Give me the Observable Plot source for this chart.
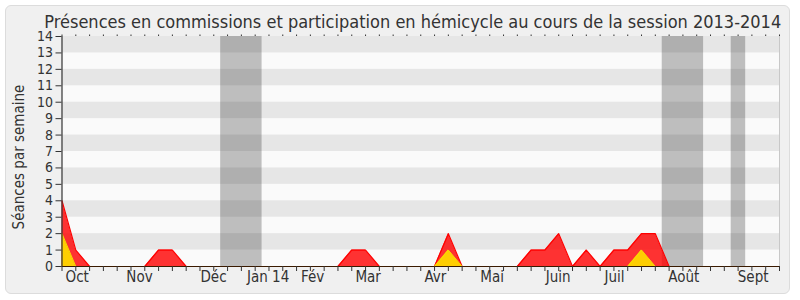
<!DOCTYPE html>
<html>
<head>
<meta charset="utf-8">
<script src="https://cdn.jsdelivr.net/npm/d3@7"></script>
<script src="https://cdn.jsdelivr.net/npm/@observablehq/plot@0.6"></script>
<style>
  html, body { margin: 0; padding: 0; background: #ffffff; }
  #wrap { position: relative; width: 800px; height: 300px; overflow: hidden; }
  #box { position: absolute; left: 5px; top: 5px; width: 783px; height: 287px;
         background: #f0f0f0; border: 1px solid #dcdcdc; border-radius: 6px; }
  #chart { position: absolute; left: 0; top: 0; }
  #ytitle { position: absolute; left: 19px; top: 157px; transform: translate(-50%, -50%) rotate(-90deg);
            white-space: nowrap; font-family: 'DejaVu Sans Condensed', 'DejaVu Sans', sans-serif;
            font-stretch: condensed; font-size: 15px; color: #333; }
</style>
</head>
<body>
<div id="wrap"><div id="box"></div><div id="chart"></div><div id="ytitle"></div></div>
<script>
// ---- data ----
const title = "Présences en commissions et participation en hémicycle au cours de la session 2013-2014";
const yTitle = "Séances par semaine";
const weeks = d3.range(0, 53);
// séances par semaine (total, rouge)
const redValues = [4,1,0,0,0,0,0,1,1,0, 0,0,0,0,0,0,0,0,0,0, 0,1,1,0,0,0,0,0,2,0, 0,0,0,0,1,1,2,0,1,0, 1,1,2,2,0,0,0,0,0,0, 0,0,0];
// présences en hémicycle (jaune)
const yellowValues = [2,0,0,0,0,0,0,0,0,0, 0,0,0,0,0,0,0,0,0,0, 0,0,0,0,0,0,0,0,1,0, 0,0,0,0,0,0,0,0,0,0, 0,0,1,0,0,0,0,0,0,0, 0,0,0];
const monthLabels = ["Oct","Nov","Déc","Jan 14","Fév","Mar","Avr","Mai","Juin","Juil","Août","Sept"];
const monthPos    = [1.1, 5.62, 10.98, 14.94, 18.17, 22.19, 27.06, 31.17, 35.96, 40.04, 45.06, 50.09];
const vacStart = [11.5, 43.5, 48.5];
const vacEnd   = [14.5, 46.5, 49.55];
const yTicks = d3.range(0, 15);
const bandStarts = [1,3,5,7,9,11,13];

const rows = weeks.map((w, i) => ({week: w, red: redValues[i], yellow: yellowValues[i]}));
const months = monthLabels.map((l, i) => ({label: l, pos: monthPos[i]}));
const vac = vacStart.map((s, i) => ({s, e: vacEnd[i]}));

const font = "'DejaVu Sans Condensed', 'DejaVu Sans', sans-serif";

const plot = Plot.plot({
  width: 800, height: 300,
  marginLeft: 61.5, marginRight: 21, marginTop: 36, marginBottom: 34,
  style: {background: "transparent", fontFamily: font, fontSize: "15px", color: "#333", fontStretch: "condensed"},
  x: {domain: [0, 52], axis: null},
  y: {domain: [0, 14], axis: null},
  marks: [
    Plot.frame({fill: "#fafafa", stroke: null}),
    Plot.rect(bandStarts, {y1: d => d, y2: d => d + 1, fill: "#e6e6e6"}),
    Plot.rect(vac, {x1: "s", x2: "e", fill: "#000", fillOpacity: 0.24}),
    Plot.areaY(rows, {x: "week", y: "red", fill: "#ff0000", fillOpacity: 0.8}),
    Plot.lineY(rows, {x: "week", y: "red", stroke: "#ff0000", strokeWidth: 1.2}),
    Plot.areaY(rows, {x: "week", y: "yellow", fill: "#ffd700", fillOpacity: 0.95}),
    Plot.lineY(rows, {x: "week", y: "yellow", stroke: "#f5e000", strokeWidth: 1}),
    Plot.ruleY([0], {stroke: "#3a1a00", strokeWidth: 1.2}),
    Plot.ruleX([0], {stroke: "#333", strokeWidth: 1.2}),
    Plot.ruleX([52], {stroke: "#c8c8c8"}),
    Plot.axisY({ticks: yTicks, tickSize: 6, tickPadding: 3, fontSize: 14, fill: "#333", stroke: "#333"}),
    Plot.axisX({ticks: weeks, tickSize: 5, tickFormat: () => "", anchor: "bottom", stroke: "#333"}),
    Plot.axisX({ticks: weeks, tickSize: 1.5, tickFormat: () => "", anchor: "top", stroke: "#333", dy: -1}),
    Plot.text(months, {x: "pos", text: "label", frameAnchor: "bottom", lineAnchor: "top", dy: 5, fontSize: 15, fill: "#333"}),
    Plot.text([title], {frameAnchor: "top", lineAnchor: "bottom", dx: -8, dy: -9, fontSize: 18, fill: "#333"})
  ]
});
document.getElementById("chart").appendChild(plot);
document.getElementById("ytitle").textContent = yTitle;
</script>
</body>
</html>
